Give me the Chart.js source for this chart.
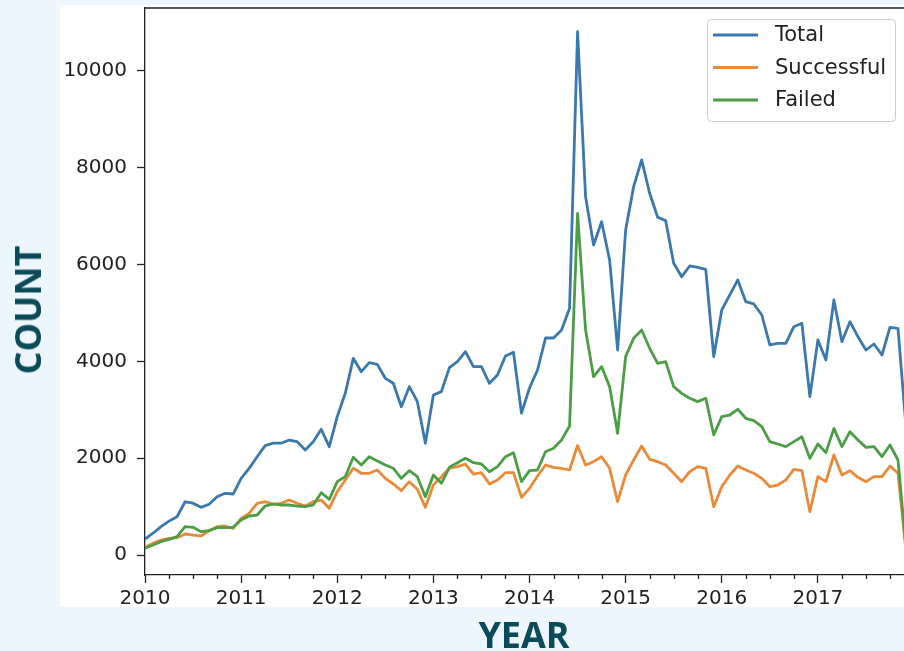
<!DOCTYPE html>
<html>
<head>
<meta charset="utf-8">
<script src="https://cdn.jsdelivr.net/npm/chart.js@4.4.1/dist/chart.umd.min.js"></script>
<style>
    html, body { margin: 0; padding: 0; width: 904px; height: 651px; overflow: hidden; background: #eef6fd; }
    #panel { position: absolute; left: 60px; top: 5px; width: 860px; height: 602px; background: #fff; }
    #wrap { position: absolute; left: 0; top: 0; }
    .axis-title { position: absolute; font-family: "Open Sans", sans-serif; font-weight: 700; font-size: 36px;
                  line-height: 1; color: #0b4a58; white-space: nowrap; }
    #yTitle { left: 28px; top: 310px; transform: translate(-50%, -50%) rotate(-90deg); }
    #xTitle { left: 524px; top: 635px; transform: translate(-50%, -50%); }
</style>
</head>
<body>
<div id="panel"></div>
<div id="wrap"><canvas id="countChart" width="912" height="651"></canvas></div>
<div class="axis-title" id="yTitle">COUNT</div>
<div class="axis-title" id="xTitle">YEAR</div>
<script>
//-- monthly counts, Jan 2010 .. Dec 2017 --
const startYear = 2010;
const totalCounts = [
    330, 450, 585, 700, 790, 1100, 1070, 985, 1050, 1205, 1275, 1260,
    1585, 1790, 2030, 2260, 2310, 2310, 2375, 2340, 2170, 2340, 2596, 2238,
    2858, 3340, 4063, 3787, 3973, 3939, 3650, 3547, 3064, 3478, 3168, 2307,
    3306, 3375, 3870, 3994, 4200, 3890, 3890, 3547, 3719, 4111, 4187, 2930,
    3450, 3822, 4483, 4483, 4650, 5096, 10811, 7403, 6405, 6886, 6095, 4235,
    6715, 7610, 8161, 7473, 6977, 6907, 6026, 5750, 5971, 5944, 5902, 4097,
    5062, 5372, 5682, 5234, 5186, 4958, 4339, 4373, 4373, 4717, 4786, 3271,
    4442, 4029, 5268, 4407, 4820, 4510, 4235, 4359, 4132, 4704, 4683, 2650
];
const successfulCounts = [
    158, 241, 310, 344, 358, 434, 413, 393, 503, 586, 599, 551,
    758, 861, 1068, 1102, 1047, 1068, 1136, 1068, 1012, 1102, 1136, 964,
    1308, 1550, 1791, 1688, 1688, 1756, 1584, 1467, 1329, 1515, 1357, 985,
    1446, 1618, 1791, 1825, 1880, 1673, 1701, 1467, 1550, 1701, 1701, 1191,
    1377, 1632, 1859, 1811, 1790, 1756, 2262, 1859, 1928, 2031, 1791, 1102,
    1653, 1963, 2252, 1977, 1928, 1859, 1688, 1515, 1721, 1825, 1791, 998,
    1411, 1653, 1839, 1756, 1688, 1584, 1411, 1446, 1550, 1770, 1742, 895,
    1618, 1515, 2066, 1653, 1742, 1605, 1515, 1618, 1618, 1839, 1688, 80
];
const failedCounts = [
    138, 207, 276, 324, 379, 586, 572, 482, 503, 565, 565, 572,
    723, 806, 826, 1012, 1054, 1033, 1033, 1012, 998, 1033, 1288, 1150,
    1515, 1618, 2018, 1859, 2031, 1942, 1859, 1791, 1584, 1742, 1618, 1205,
    1653, 1481, 1812, 1907, 1997, 1907, 1880, 1721, 1825, 2031, 2114, 1515,
    1742, 1756, 2134, 2204, 2376, 2665, 7059, 4649, 3684, 3890, 3478, 2514,
    4097, 4477, 4649, 4270, 3960, 3994, 3478, 3340, 3237, 3168, 3237, 2479,
    2858, 2892, 3010, 2824, 2775, 2651, 2341, 2293, 2238, 2341, 2444, 1997,
    2293, 2114, 2617, 2238, 2548, 2376, 2224, 2238, 2031, 2273, 1963, 150
];
const yearTicks = [2010, 2011, 2012, 2013, 2014, 2015, 2016, 2017];
const countTicks = [0, 2000, 4000, 6000, 8000, 10000];
const seriesLabels = ["Total", "Successful", "Failed"];
const seriesColors = ["#3a78ae", "#ea8a38", "#4c9e44"];

//-- month positions as decimal years --
const monthPos = totalCounts.map((_, i) => startYear + i / 12);
const minorTicks = [];
yearTicks.forEach(y => [0.25, 0.5, 0.75].forEach(q => minorTicks.push(y + q)));

const tickFont = { family: "'DejaVu Sans'", size: 20 };
const inkColor = "#222";

//-- top spine, minor x ticks and the legend box --
const framePlugin = {
    id: "frame",
    afterDraw(chart) {
        const { ctx, chartArea: a, scales: { x } } = chart;
        ctx.save();
        ctx.strokeStyle = inkColor;
        ctx.lineWidth = 1.3;
        ctx.beginPath();
        ctx.moveTo(a.left, a.top);
        ctx.lineTo(a.right, a.top);
        minorTicks.forEach(v => {
            const px = Math.round(x.getPixelForValue(v)) + 0.5;
            ctx.moveTo(px, a.bottom);
            ctx.lineTo(px, a.bottom + 4);
        });
        ctx.stroke();

        //-- legend --
        const bx = a.right - 199, by = a.top + 11, bw = 188, bh = 102;
        ctx.fillStyle = "rgba(255,255,255,0.8)";
        ctx.strokeStyle = "#cccccc";
        ctx.lineWidth = 1;
        ctx.beginPath();
        ctx.roundRect(bx + 0.5, by + 0.5, bw, bh, 4);
        ctx.fill();
        ctx.stroke();
        ctx.font = "21px 'DejaVu Sans'";
        ctx.textBaseline = "middle";
        ctx.fillStyle = inkColor;
        chart.data.datasets.forEach((ds, i) => {
            const ry = by + 16 + i * 32.5;
            ctx.strokeStyle = ds.borderColor;
            ctx.lineWidth = 2.8;
            ctx.beginPath();
            ctx.moveTo(bx + 6, ry);
            ctx.lineTo(bx + 51, ry);
            ctx.stroke();
            ctx.fillText(ds.label, bx + 68, ry + 1);
        });
        ctx.restore();
    }
};

function buildDataset(i, values) {
    return {
        label: seriesLabels[i],
        data: values.map((v, k) => ({ x: monthPos[k], y: v })),
        borderColor: seriesColors[i],
        borderWidth: 2.8,
        pointRadius: 0,
        tension: 0,
        borderJoinStyle: "round",
        order: 2 - i
    };
}

new Chart(document.getElementById("countChart").getContext("2d"), {
    type: "line",
    data: {
        datasets: [
            buildDataset(0, totalCounts),
            buildDataset(1, successfulCounts),
            buildDataset(2, failedCounts)
        ]
    },
    options: {
        responsive: false,
        animation: false,
        events: [],
        layout: { padding: { left: 0, top: 8, right: 6, bottom: 0 } },
        plugins: { legend: { display: false }, tooltip: { enabled: false } },
        scales: {
            x: {
                type: "linear",
                min: monthPos[0],
                max: monthPos[monthPos.length - 1],
                afterBuildTicks: s => { s.ticks = yearTicks.map(v => ({ value: v })); },
                afterFit: s => { s.height = 76; s.paddingLeft = 0; s.paddingRight = 0; },
                ticks: { font: tickFont, color: inkColor, padding: 4, maxRotation: 0, autoSkip: false,
                         callback: v => String(v) },
                grid: { drawOnChartArea: false, tickLength: 8, tickColor: inkColor, tickWidth: 1.3 },
                border: { color: inkColor, width: 1.3 }
            },
            y: {
                min: -413,
                max: 11300,
                afterBuildTicks: s => { s.ticks = countTicks.map(v => ({ value: v })); },
                afterFit: s => { s.width = 145; s.paddingTop = 0; s.paddingBottom = 0; },
                ticks: { font: tickFont, color: inkColor, padding: 10, callback: v => String(v) },
                grid: { drawOnChartArea: false, tickLength: 8, tickColor: inkColor, tickWidth: 1.3 },
                border: { color: inkColor, width: 1.3 }
            }
        }
    },
    plugins: [framePlugin]
});
</script>
</body>
</html>
